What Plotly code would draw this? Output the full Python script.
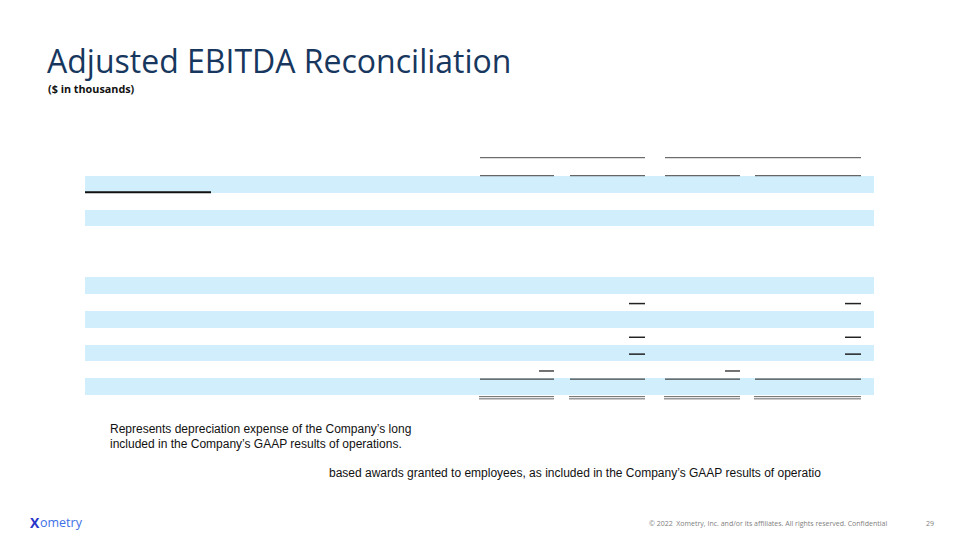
import plotly.graph_objects as go

# table structure (13 body rows, 4 value columns)
row_shaded = [1, 0, 1, 0, 0, 0, 1, 0, 1, 0, 1, 0, 1]
dash_rows_wide = [7, 9, 10]      # "—" in the 2nd and 4th columns
dash_rows_narrow = [11]          # "—" in the 1st and 3rd columns
subtotal_row = 12

footnote_1 = ["Represents depreciation expense of the Company\u2019s long",
              "included in the Company\u2019s GAAP results of operations."]
footnote_2 = "based awards granted to employees, as included in the Company\u2019s GAAP results of operatio"

# layout geometry (pixels, page coordinates)
W, H = 960, 540
OFF = 8  # default body margin of the html page
TOP, ROW_H = 176, 16.85
LEFT, RIGHT = 85, 873.5
cols = [(480, 554), (570, 645), (665, 740), (755, 861)]
BAND = "#d0eefb"
RULE = "#4a4a4a"

def row_top(i):
    return TOP + i * ROW_H

fig = go.Figure()

# shaded row bands
shaded = [i for i, s in enumerate(row_shaded) if s]
fig.add_trace(go.Bar(
    orientation="h",
    y=[row_top(i) + ROW_H / 2 for i in shaded],
    x=[RIGHT - LEFT] * len(shaded),
    base=[LEFT] * len(shaded),
    width=[ROW_H - 0.3] * len(shaded),
    marker=dict(color=BAND, line=dict(width=0)),
    hoverinfo="skip", showlegend=False,
))

def hline(x0, x1, y, color=RULE, width=1):
    fig.add_trace(go.Scatter(x=[x0, x1], y=[y, y], mode="lines",
                             line=dict(color=color, width=width),
                             hoverinfo="skip", showlegend=False))

# column header rules
hline(cols[0][0], cols[1][1], row_top(0) - 18.3)
hline(cols[2][0], cols[3][1], row_top(0) - 18.3)
for c0, c1 in cols:
    hline(c0, c1, row_top(0) - 0.3, color="#666666", width=1.2)

# label underline under first row
hline(LEFT, 211, row_top(1) - 0.5, color="#111111", width=2)

# dashes
for r in dash_rows_wide:
    y = row_top(r) + ROW_H / 2 + 1.2
    for c in (1, 3):
        hline(cols[c][1] - 16, cols[c][1], y, color="#222222", width=1.5)
for r in dash_rows_narrow:
    y = row_top(r) + ROW_H / 2 + 1.2
    for c in (0, 2):
        hline(cols[c][1] - 15, cols[c][1], y, color="#444444", width=1.5)

# subtotal and double rules
for c0, c1 in cols:
    hline(c0, c1, row_top(subtotal_row) + 1, color="#444444", width=1.2)
    hline(c0 - 1, c1, row_top(subtotal_row + 1) + 1.6, color="#666666", width=1)
    hline(c0 - 1, c1, row_top(subtotal_row + 1) + 3.8, color="#666666", width=1)

annotations = [
    dict(x=44.5, y=60, text="Adjusted EBITDA Reconciliation", xanchor="left", yanchor="middle",
         font=dict(family="Open Sans", size=32, color="#17375e")),
    dict(x=46, y=88, text="<b>($ in thousands)</b>", xanchor="left", yanchor="middle",
         font=dict(family="Open Sans", size=10.8, color="#111111")),
    dict(x=108, y=429, text=footnote_1[0], xanchor="left", yanchor="middle",
         font=dict(family="Liberation Sans", size=12, color="#111111")),
    dict(x=108, y=444, text=footnote_1[1], xanchor="left", yanchor="middle",
         font=dict(family="Liberation Sans", size=12, color="#111111")),
    dict(x=327, y=473, text=footnote_2, xanchor="left", yanchor="middle",
         font=dict(family="Liberation Sans", size=12, color="#111111")),
    dict(x=889, y=523, text="\u00a9 2022  Xometry, Inc. and/or its affiliates. All rights reserved. Confidential",
         xanchor="right", yanchor="middle",
         font=dict(family="Open Sans", size=7, color="#808080")),
    dict(x=936, y=523, text="29", xanchor="right", yanchor="middle",
         font=dict(family="Open Sans", size=7, color="#808080")),
    dict(x=28, y=522, text="<b>X</b>", xanchor="left", yanchor="middle",
         font=dict(family="Open Sans", size=14, color="#2a35c9")),
    dict(x=38, y=522, text="ometry", xanchor="left", yanchor="middle",
         font=dict(family="Open Sans", size=12.5, color="#3d6fe6")),
]
for a in annotations:
    a.update(xref="x", yref="y", showarrow=False)

fig.update_layout(
    width=W, height=H,
    margin=dict(l=0, r=0, t=0, b=0),
    paper_bgcolor="white", plot_bgcolor="white",
    xaxis=dict(range=[OFF, W + OFF], visible=False, fixedrange=True),
    yaxis=dict(range=[H + OFF, OFF], visible=False, fixedrange=True),
    bargap=0,
    annotations=annotations,
)

fig.write_html("out.html")
